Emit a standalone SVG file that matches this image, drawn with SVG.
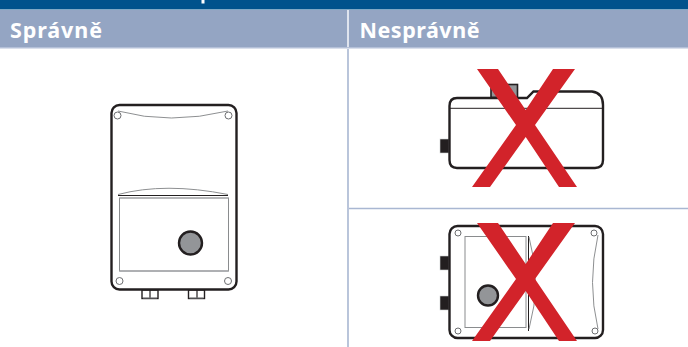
<svg xmlns="http://www.w3.org/2000/svg" width="688" height="347" viewBox="0 0 688 347">
<style>
.head{font-family:"Noto Sans","Liberation Sans",sans-serif;font-weight:700;font-size:21.500px;fill:#fff}
.body{fill:#fff;stroke:#231f20;stroke-width:2.400}
.thin{fill:none;stroke:#808285;stroke-width:.9}
.hole{fill:#fff;stroke:#6d6e71;stroke-width:1}
.win{fill:#fff;stroke:#8a8c8e;stroke-width:1}
.knob{fill:#939598;stroke:#231f20;stroke-width:2.400}
.blk{fill:#231f20;stroke:#d1d3d4;stroke-width:.6}
.x{fill:#d2232a}
.grid{stroke:#a9b7d2;stroke-width:1.600;fill:none}
</style>
<rect width="688" height="347" fill="#fff"/>
<g id="table">
<rect width="688" height="9.500" fill="#00528c"/>
<rect x="201.500" y="0" width="3" height="3.500" fill="#fff"/>
<rect y="10" width="688" height="37" fill="#94a5c3"/>
<rect y="47" width="688" height="1.500" fill="#b4c0d8"/>
<rect x="347" y="10" width="2" height="37" fill="#dfe4ee"/>
<path class="grid" d="M348 49V347M349 208.500H688"/>
<text class="head" x="10" y="38" textLength="92">Správně</text>
<text class="head" x="359.500" y="38" textLength="120">Nesprávně</text>
</g>
<g id="device-correct">
<rect x="142" y="290" width="16" height="8.500" fill="#fff" stroke="#231f20" stroke-width="1.400"/>
<path d="M150 290V298.500" stroke="#231f20" stroke-width="1.200"/>
<path d="M143 298H157" stroke="#808285" stroke-width="1"/>
<rect x="188.500" y="290" width="16" height="8.500" fill="#fff" stroke="#231f20" stroke-width="1.400"/>
<path d="M197 290V298.500" stroke="#231f20" stroke-width="1.200"/>
<path d="M189.500 298H203.500" stroke="#808285" stroke-width="1"/>
<rect class="body" x="111.500" y="105" width="125" height="184.500" rx="8"/>
<path class="thin" d="M118 111Q170 125 228 111"/>
<circle class="hole" cx="117.500" cy="115.500" r="3.500"/>
<circle class="hole" cx="228.500" cy="115.500" r="3.500"/>
<path class="thin" d="M118 194.500Q165 182 228 194.500"/>
<path d="M118 195.500H228" stroke="#231f20" stroke-width="1"/>
<rect class="win" x="119.500" y="198" width="109" height="73"/>
<path d="M119.500 271H228.500" stroke="#a7a9ac" stroke-width="1.500"/>
<path d="M119.500 198H228.500" stroke="#a7a9ac" stroke-width="1.200"/>
<circle class="knob" cx="190.500" cy="243" r="11.500"/>
<circle class="hole" cx="119.500" cy="281" r="3.500"/>
<circle class="hole" cx="228" cy="281" r="3.500"/>
</g>
<g id="device-wrong-top">
<rect x="491" y="84.500" width="26.500" height="13" fill="#939598" stroke="#231f20" stroke-width="1.600"/>
<rect class="blk" x="440" y="139" width="9" height="14"/>
<path class="body" d="M457 98H527L533.500 91.500H592Q603 93 603 105V160Q603 168 595 168H457Q449.500 168 449.500 160V106Q449.500 98 457 98Z"/>
<path d="M450 108.300H603" stroke="#231f20" stroke-width="1"/>
<path class="x" d="M477 69H498L525.700 110L553 69H575L535 125L577 187H559L525.700 137L490 187H472L516 125Z"/>
</g>
<g id="device-wrong-bottom">
<rect class="blk" x="440" y="256" width="9" height="14"/>
<rect class="blk" x="440" y="296" width="9" height="14"/>
<rect class="body" x="449.500" y="226" width="153.500" height="112" rx="8"/>
<circle class="hole" cx="458" cy="233" r="3"/>
<circle class="hole" cx="594" cy="233" r="3"/>
<circle class="hole" cx="458" cy="331" r="3"/>
<circle class="hole" cx="595" cy="331" r="3"/>
<rect class="win" x="465" y="236.500" width="61" height="91"/>
<path d="M528.500 236V331" stroke="#231f20" stroke-width="1"/>
<path class="thin" d="M529 237Q542 283 529 329"/>
<path class="thin" d="M598 235Q587 283 598 329"/>
<circle class="knob" cx="488" cy="295.500" r="10"/>
<path class="x" d="M477 223H498L525.700 264L553 223H575L535 279L577 341H559L525.700 291L490 341H472L516 279Z"/>
</g>
</svg>
